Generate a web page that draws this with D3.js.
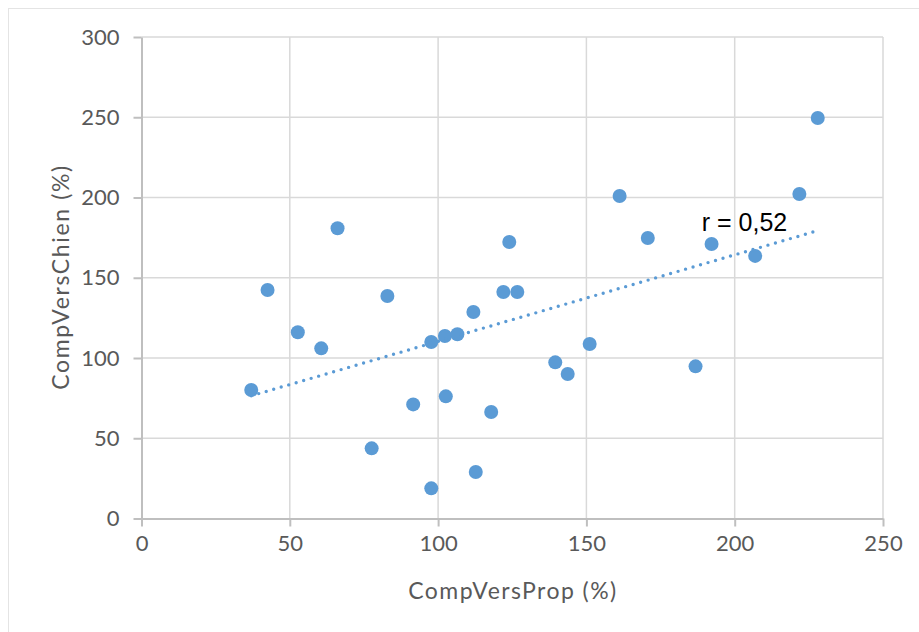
<!DOCTYPE html>
<html>
<head>
<meta charset="utf-8">
<script src="https://cdn.jsdelivr.net/npm/d3@7"></script>
<style>
  body { margin: 0; background: #fff; }
  svg { display: block; }
  .tick text { font-family: Lato, "Open Sans", sans-serif; font-size: 22px; fill: #595959; }
  .title { font-family: Lato, "Open Sans", sans-serif; font-size: 23px; fill: #595959; }
</style>
</head>
<body>
<script>
// values
const compVersProp = [37.0, 42.5, 52.7, 60.6, 66.1, 77.6, 82.9, 91.6, 97.7, 97.7,
  102.3, 102.6, 106.5, 111.9, 112.7, 117.9, 122.0, 124.0, 126.7, 139.5,
  143.7, 151.1, 161.2, 170.7, 186.8, 192.2, 206.9, 221.8, 228.0];
const compVersChien = [80.1, 142.4, 116.0, 106.0, 180.8, 43.7, 138.6, 71.1, 110.0, 18.8,
  113.7, 76.1, 114.8, 128.7, 29.0, 66.4, 141.1, 172.3, 141.1, 97.3,
  90.0, 108.7, 200.9, 174.8, 94.8, 171.0, 163.6, 202.2, 249.5];
const xTicks = [0, 50, 100, 150, 200, 250];
const yTicks = [0, 50, 100, 150, 200, 250, 300];
const xTitle = "CompVersProp (%)";
const yTitle = "CompVersChien (%)";
const rLabel = "r = 0,52";
const rLabelPos = [188.9, 179];

const w = 919;
const h = 632;
const blue = "#5b9bd5";
const grid = "#d9d9d9";

const svg = d3.select("body")
  .append("svg")
  .attr("width", w)
  .attr("height", h);

// chart frame
svg.append("rect")
  .attr("x", 8.5)
  .attr("y", 8.5)
  .attr("width", 930)
  .attr("height", 640)
  .attr("fill", "none")
  .attr("stroke", "#e4e4e4");

const xScale = d3.scaleLinear().domain([0, 250]).range([141.5, 883]);
const yScale = d3.scaleLinear().domain([0, 300]).range([518.5, 37]);

// gridlines
svg.append("g")
  .selectAll("line")
  .data(xTicks.slice(1))
  .enter()
  .append("line")
  .attr("x1", d => xScale(d))
  .attr("x2", d => xScale(d))
  .attr("y1", yScale(300))
  .attr("y2", yScale(0))
  .attr("stroke", grid)
  .attr("stroke-width", 1.5);

svg.append("g")
  .selectAll("line")
  .data(yTicks.slice(1))
  .enter()
  .append("line")
  .attr("x1", xScale(0))
  .attr("x2", xScale(250))
  .attr("y1", d => yScale(d))
  .attr("y2", d => yScale(d))
  .attr("stroke", grid)
  .attr("stroke-width", 1.5);

// axes
const xAxis = d3.axisBottom(xScale)
  .tickValues(xTicks)
  .tickSizeInner(8)
  .tickSizeOuter(0)
  .tickPadding(9);
const xAxisGroup = svg.append("g")
  .attr("transform", `translate(0, ${yScale(0)})`)
  .call(xAxis);

const yAxis = d3.axisLeft(yScale)
  .tickValues(yTicks)
  .tickSizeInner(8)
  .tickSizeOuter(0)
  .tickPadding(14);
const yAxisGroup = svg.append("g")
  .attr("transform", `translate(${xScale(0)}, 0)`)
  .call(yAxis);

[xAxisGroup, yAxisGroup].forEach(g => {
  g.select(".domain").attr("stroke", "#bfbfbf").attr("stroke-width", 2);
  g.selectAll(".tick line").attr("stroke", "#bfbfbf").attr("stroke-width", 2);
});

// axis titles
svg.append("text")
  .attr("class", "title")
  .attr("x", (xScale(0) + xScale(250)) / 2)
  .attr("y", 599)
  .attr("text-anchor", "middle")
  .attr("textLength", 208)
  .attr("lengthAdjust", "spacing")
  .text(xTitle);

svg.append("text")
  .attr("class", "title")
  .attr("transform", `translate(69, ${(yScale(0) + yScale(300)) / 2}) rotate(-90)`)
  .attr("text-anchor", "middle")
  .attr("textLength", 224)
  .attr("lengthAdjust", "spacing")
  .text(yTitle);

// linear trendline (least squares)
const n = compVersProp.length;
const mx = d3.mean(compVersProp);
const my = d3.mean(compVersChien);
let sxy = 0, sxx = 0;
for (let i = 0; i < n; i++) {
  sxy += (compVersProp[i] - mx) * (compVersChien[i] - my);
  sxx += (compVersProp[i] - mx) ** 2;
}
const slope = sxy / sxx;
const intercept = my - slope * mx;
const xExt = d3.extent(compVersProp);

const points = compVersProp.map((x, i) => ({ x: x, y: compVersChien[i] }));

svg.selectAll("circle")
  .data(points)
  .enter()
  .append("circle")
  .attr("cx", d => xScale(d.x))
  .attr("cy", d => yScale(d.y))
  .attr("r", 7)
  .attr("fill", blue);

svg.append("line")
  .attr("x1", xScale(xExt[0]))
  .attr("y1", yScale(intercept + slope * xExt[0]))
  .attr("x2", xScale(xExt[1]))
  .attr("y2", yScale(intercept + slope * xExt[1]))
  .attr("stroke", blue)
  .attr("stroke-width", 3.4)
  .attr("stroke-linecap", "round")
  .attr("stroke-dasharray", "0,7.8");

svg.append("text")
  .attr("x", xScale(rLabelPos[0]))
  .attr("y", yScale(rLabelPos[1]))
  .attr("font-family", "'Liberation Sans', Arial, sans-serif")
  .attr("font-size", 25)
  .attr("fill", "#000")
  .attr("xml:space", "preserve")
  .text(rLabel);
</script>
</body>
</html>
